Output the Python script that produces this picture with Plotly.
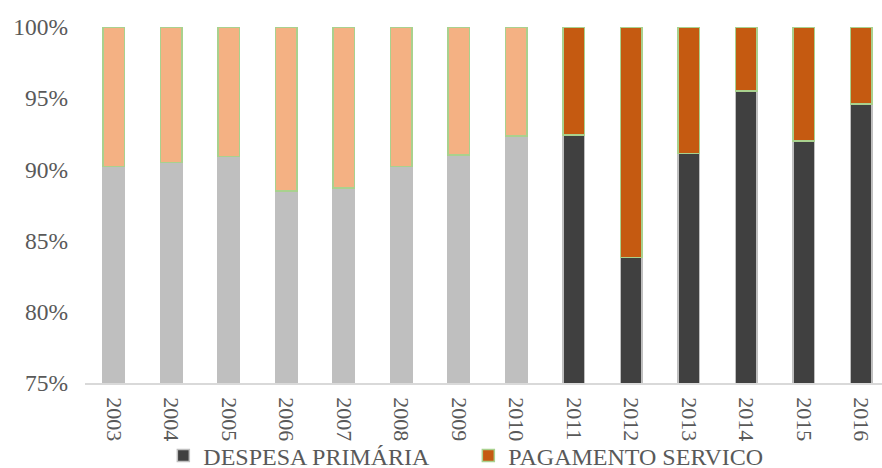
import plotly.graph_objects as go

# Share of each component in total spending, by year (percent)
years = ["2003", "2004", "2005", "2006", "2007", "2008", "2009",
         "2010", "2011", "2012", "2013", "2014", "2015", "2016"]
despesa_primaria = [90.2, 90.5, 90.9, 88.5, 88.7, 90.2, 91.0,
                    92.35, 92.4, 83.8, 91.1, 95.5, 92.0, 94.6]
pagamento_servico = [round(100 - v, 2) for v in despesa_primaria]
y_ticks = [75, 80, 85, 90, 95, 100]
y_tick_labels = [f"{v}%" for v in y_ticks]

# Colours: lighter tones for 2003-2010, darker tones from 2011 on
n_light = 8
despesa_colors = ["#BFBFBF"] * n_light + ["#404040"] * (len(years) - n_light)
servico_colors = ["#F4B183"] * n_light + ["#C55A11"] * (len(years) - n_light)

FAMILY = "Liberation Serif"
TEXT = "#595959"
x_font = dict(family=FAMILY, size=22, color=TEXT)
y_font = dict(family=FAMILY, size=23.5, color=TEXT)
BAR_W = 0.38

fig = go.Figure()

# Legend-only entries (zero-height bars at the stack base, outside the visible range)
fig.add_trace(go.Bar(
    x=[years[0]], y=[0], name="DESPESA PRIMÁRIA", width=BAR_W,
    marker=dict(color="#404040", line=dict(color="#BFBFBF", width=1.5)),
    hoverinfo="skip", legendgroup="dp",
))
fig.add_trace(go.Bar(
    x=[years[0]], y=[0], name="PAGAMENTO SERVICO", width=BAR_W,
    marker=dict(color="#C55A11", line=dict(color="#A9D18E", width=1.5)),
    hoverinfo="skip", legendgroup="ps",
))

fig.add_trace(go.Bar(
    x=years, y=despesa_primaria, name="DESPESA PRIMÁRIA", width=BAR_W,
    marker=dict(color=despesa_colors, line=dict(color="#BFBFBF", width=1.5)),
    showlegend=False, legendgroup="dp",
))
fig.add_trace(go.Bar(
    x=years, y=pagamento_servico, name="PAGAMENTO SERVICO", width=BAR_W,
    marker=dict(color=servico_colors, line=dict(color="#A9D18E", width=1.5)),
    showlegend=False, legendgroup="ps",
))

fig.update_layout(
    width=882, height=468,
    barmode="stack",
    plot_bgcolor="white", paper_bgcolor="white",
    margin=dict(l=85, r=0, t=27, b=85, autoexpand=False),
    font=x_font,
    showlegend=True,
    legend=dict(
        orientation="h", xref="container", yref="container",
        x=0.531, xanchor="center", y=12 / 468, yanchor="middle",
        bgcolor="rgba(0,0,0,0)",
        font=dict(family=FAMILY, size=24, color=TEXT),
        itemwidth=30, tracegroupgap=0,
        entrywidth=260, entrywidthmode="pixels",
    ),
)
fig.update_xaxes(
    type="category", range=[-0.5, 13.36], automargin=False,
    tickangle=90, tickfont=x_font, ticks="", ticklabelstandoff=8,
    showline=True, linecolor="#D9D9D9", linewidth=1.5,
    showgrid=False, zeroline=False,
)
fig.update_yaxes(
    range=[75, 100], tickmode="array", tickvals=y_ticks, ticktext=y_tick_labels,
    automargin=False, tickfont=y_font, ticks="", ticklabelstandoff=16,
    showline=False, showgrid=False, zeroline=False,
)

fig.write_html("out.html")
